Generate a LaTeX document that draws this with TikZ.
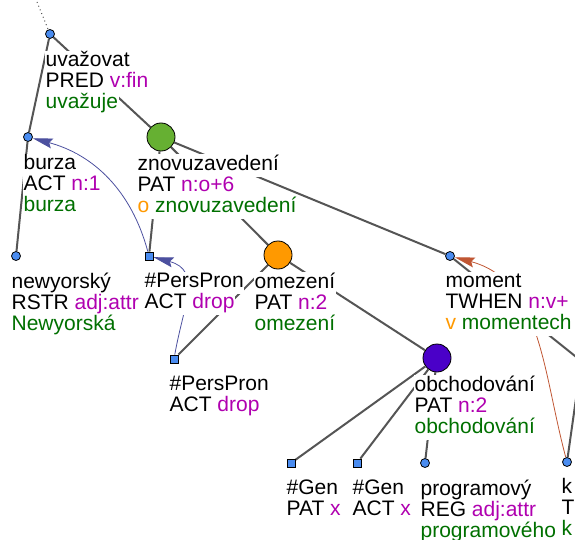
\documentclass[tikz,border=0pt]{standalone}
\usepackage{fontspec}
\setmainfont{Liberation Sans}
\usetikzlibrary{positioning,backgrounds,arrows.meta}
\definecolor{nodeblue}{HTML}{4A8CF0}
\definecolor{nodegreen}{HTML}{66B032}
\definecolor{nodeorange}{HTML}{FF9900}
\definecolor{nodepurple}{HTML}{4A00C8}
\definecolor{funcol}{HTML}{B000B0}
\definecolor{formcol}{HTML}{007000}
\definecolor{prepcol}{HTML}{FF9900}
\definecolor{edgegray}{HTML}{555555}
\definecolor{corblue}{HTML}{4C509F}
\definecolor{corrust}{HTML}{C05633}
\setlength{\fboxsep}{0.6pt}
\setlength{\lineskiplimit}{-20pt}
\newcommand{\wl}[1]{\colorbox{white}{\strut #1}}
\newcommand{\tfun}[1]{\textcolor{funcol}{#1}}
\newcommand{\tform}[1]{\textcolor{formcol}{#1}}
\newcommand{\tprep}[1]{\textcolor{prepcol}{#1}}
\tikzstyle{bluedot}=[circle,draw=black,fill=nodeblue,
                     inner sep=0pt,minimum size=9pt,line width=0.8pt]
\tikzstyle{bluesq}=[rectangle,draw=black,fill=nodeblue,
                    inner sep=0pt,minimum size=8pt,line width=0.8pt]
\tikzstyle{bigdot}=[circle,draw=black,
                    inner sep=0pt,minimum size=28pt,line width=0.8pt]
\tikzstyle{tlabel}=[inner sep=0pt,outer sep=0pt,align=left,
                    font=\fontsize{21}{21}\selectfont]
\tikzstyle{edge}=[draw=edgegray,line width=2pt]
\tikzstyle{corefa}=[draw=corblue,line width=0.8pt,
                    -{Stealth[length=20pt,width=10pt,inset=3pt,color=corblue]}]
\tikzstyle{corefb}=[draw=corrust,line width=0.8pt,
                    -{Stealth[length=20pt,width=10pt,inset=3pt,color=corrust]}]

\begin{document}
\begin{tikzpicture}[x=1pt,y=-1pt]
  \useasboundingbox (0,0) rectangle (575,540);
  % tree nodes
  \coordinate (top) at (37,2);
  \node (uvaz) at (50,34) [bluedot]{};
  \node (burza) at (28,137) [bluedot]{};
  \node (znovu) at (161,137) [bigdot,fill=nodegreen]{};
  \node (newyor) at (16,256) [bluedot]{};
  \node (pers1) at (149,256) [bluesq]{};
  \node (omez) at (278,255) [bigdot,fill=nodeorange]{};
  \node (moment) at (450,256) [bluedot]{};
  \node (pers2) at (174,359) [bluesq]{};
  \node (obchod) at (437,358) [bigdot,fill=nodepurple]{};
  \node (gen1) at (291,463) [bluesq]{};
  \node (gen2) at (357,463) [bluesq]{};
  \node (program) at (425,463) [bluedot]{};
  \node (knode) at (567,462) [bluedot]{};
  \coordinate (mchild) at (640,408);
  \coordinate (kparent) at (590,300);
  % labels
  \node (uvaz-l) [tlabel,below right=17pt and -5pt of uvaz.center]
    {\wl{uvažovat}\\\wl{PRED \tfun{v:fin}}\\\wl{\tform{uvažuje}}};
  \node (burza-l) [tlabel,below right=17pt and -5pt of burza.center]
    {\wl{burza}\\\wl{ACT \tfun{n:1}}\\\wl{\tform{burza}}};
  \node (znovu-l) [tlabel,below right=17pt and -24pt of znovu.center]
    {\wl{znovuzavedení}\\\wl{PAT \tfun{n:o+6}}\\\wl{\tprep{o} \tform{znovuzavedení}}};
  \node (newyor-l) [tlabel,below right=16pt and -5pt of newyor.center]
    {\wl{newyorský}\\\wl{RSTR \tfun{adj:attr}}\\\wl{\tform{Newyorská}}};
  \node (pers1-l) [tlabel,below right=16pt and -5pt of pers1.center]
    {\wl{\#PersPron}\\\wl{ACT \tfun{drop}}};
  \node (omez-l) [tlabel,below right=17pt and -24pt of omez.center]
    {\wl{omezení}\\\wl{PAT \tfun{n:2}}\\\wl{\tform{omezení}}};
  \node (moment-l) [tlabel,below right=16pt and -5pt of moment.center]
    {\wl{moment}\\\wl{TWHEN \tfun{n:v+}}\\\wl{\tprep{v} \tform{momentech}}};
  \node (pers2-l) [tlabel,below right=16pt and -5pt of pers2.center]
    {\wl{\#PersPron}\\\wl{ACT \tfun{drop}}};
  \node (obchod-l) [tlabel,below right=17pt and -23pt of obchod.center]
    {\wl{obchodování}\\\wl{PAT \tfun{n:2}}\\\wl{\tform{obchodování}}};
  \node (gen1-l) [tlabel,below right=16pt and -5pt of gen1.center]
    {\wl{\#Gen}\\\wl{PAT \tfun{x}}};
  \node (gen2-l) [tlabel,below right=16pt and -5pt of gen2.center]
    {\wl{\#Gen}\\\wl{ACT \tfun{x}}};
  \node (program-l) [tlabel,below right=16pt and -5pt of program.center]
    {\wl{programový}\\\wl{REG \tfun{adj:attr}}\\\wl{\tform{programového}}};
  \node (knode-l) [tlabel,below right=16pt and -6pt of knode.center]
    {\wl{k}\\\wl{T}\\\wl{\tform{k}}};
  % edges and coreference arrows
  \begin{scope}[on background layer]
    \draw[edgegray,line width=1pt,dash pattern=on 1pt off 3pt] (top) -- (uvaz);
    \draw[edge] (uvaz) -- (burza) (uvaz) -- (znovu);
    \draw[edge] (burza) -- (newyor);
    \draw[edge] (znovu) -- (pers1) (znovu) -- (omez) (znovu) -- (moment);
    \draw[edge] (omez) -- (pers2) (omez) -- (obchod);
    \draw[edge] (obchod) -- (gen1) (obchod) -- (gen2) (obchod) -- (program);
    \draw[edge] (moment) -- (mchild) (kparent) -- (knode);
    \draw[corefa] (pers1) to[out=105,in=-15] (burza);
    \draw[corefa] (pers2) to[out=80,in=-15,looseness=1.3] (pers1);
    \draw[corefb] (knode) to[out=105,in=-15] (moment);
  \end{scope}
\end{tikzpicture}
\end{document}
